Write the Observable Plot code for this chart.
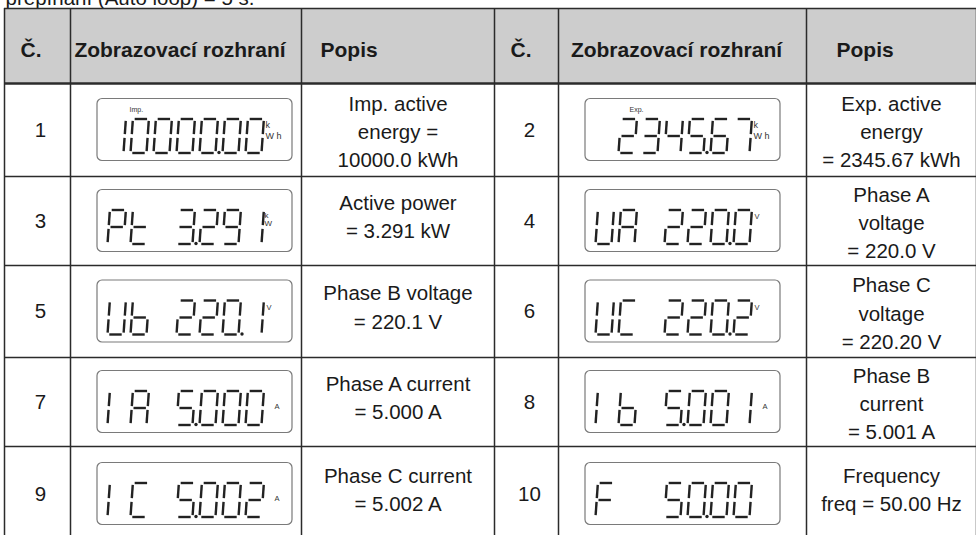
<!DOCTYPE html>
<html>
<head>
<meta charset="utf-8">
<script src="https://cdn.jsdelivr.net/npm/d3@7"></script>
<script src="https://cdn.jsdelivr.net/npm/@observablehq/plot@0.6"></script>
<style>
  html, body { margin: 0; padding: 0; background: #fff; }
</style>
</head>
<body>
<div id="chart"></div>
<script>
// ---------- data ----------
const caption = "přepínání (Auto loop) = 5 s.";
const headerLabels = ["Č.", "Zobrazovací rozhraní", "Popis"];
const itemNumbers = ["1", "2", "3", "4", "5", "6", "7", "8", "9", "10"];
const lcdTexts = ["10000.00", " 2345.67", "Pt 3.291", "UA 220.0", "Ub 220.1",
                  "UC 220.2", "IA 5.000", "Ib 5.001", "IC 5.002", "F  50.00"];
const lcdUnits = ["kWh", "kWh", "kW", "V", "V", "V", "A", "A", "A", ""];
const lcdLabels = ["Imp.", "Exp.", "", "", "", "", "", "", "", ""];
const descriptions = [
  "Imp. active\nenergy =\n10000.0 kWh",
  "Exp. active\nenergy\n= 2345.67 kWh",
  "Active power\n= 3.291 kW",
  "Phase A\nvoltage\n= 220.0 V",
  "Phase B voltage\n= 220.1 V",
  "Phase C\nvoltage\n= 220.20 V",
  "Phase A current\n= 5.000 A",
  "Phase B\ncurrent\n= 5.001 A",
  "Phase C current\n= 5.002 A",
  "Frequency\nfreq = 50.00 Hz"
];
// seven-segment encoding of the LCD glyphs
const glyphSegments = {
  "0": "abcdef", "1": "bc", "2": "abdeg", "3": "abcdg", "4": "bcfg",
  "5": "acdfg", "6": "acdefg", "7": "abc", "8": "abcdefg", "9": "abcdfg",
  "P": "abefg", "t": "defg", "U": "bcdef", "A": "abcefg", "b": "cdefg",
  "C": "adef", "I": "ef", "F": "aefg", " ": ""
};

// ---------- layout ----------
const width = 976, height = 535;
const colEdges = [[4, 70, 301, 494], [494, 558, 806, 976]];
const rowEdges = [8, 83, 176, 265, 357, 446, 541];
const FONT = 20.5;
const ink = "#1a1a1a";

const items = itemNumbers.map((n, i) => {
  const side = i % 2, r = Math.floor(i / 2);
  const c = colEdges[side];
  const y0 = rowEdges[r + 1], y1 = rowEdges[r + 2];
  const cy = (y0 + y1) / 2;
  const nLines = descriptions[i].split("\n").length;
  return {i, n, side, c, y0, y1, cy, nLines,
          desc: descriptions[i], lcd: lcdTexts[i], unit: lcdUnits[i], label: lcdLabels[i],
          bx: c[1] + 27, by: cy - 31};
});

// header cells
const headerCells = colEdges.flatMap((c, side) => [
  {x: c[0] + 16, anchor: "start", text: headerLabels[0]},
  {x: (c[1] + c[2]) / 2 - 6, anchor: "middle", text: headerLabels[1]},
  {x: c[2] + (side ? 30 : 19), anchor: "start", text: headerLabels[2]}
]);

// grid lines
const vLines = [...new Set(colEdges.flat())].map(x => ({x}));
const hLines = rowEdges.map((y, k) => ({y, w: k === 1 ? 2.6 : 1.5}));

// seven segment geometry
const DW = 16, DH = 34, GAP = 1.8, SLANT = 0.07, PITCH = 23;
const SD = {
  a: [[GAP, 0], [DW - GAP, 0]],
  b: [[DW, GAP], [DW, DH / 2 - GAP]],
  c: [[DW, DH / 2 + GAP], [DW, DH - GAP]],
  d: [[GAP, DH], [DW - GAP, DH]],
  e: [[0, DH / 2 + GAP], [0, DH - GAP]],
  f: [[0, GAP], [0, DH / 2 - GAP]],
  g: [[GAP, DH / 2], [DW - GAP, DH / 2]]
};
function parseLcd(s) {
  const cells = [];
  for (const ch of s) {
    if (ch === ".") cells[cells.length - 1].dp = true;
    else cells.push({ch, dp: false});
  }
  return cells;
}
const segments = [], dps = [], unitTexts = [];
items.forEach(it => {
  const dTop = it.cy - 11;
  parseLcd(it.lcd).forEach((cell, k) => {
    const x0 = it.bx + 10 + k * PITCH;
    for (const s of glyphSegments[cell.ch]) {
      const [[u1, v1], [u2, v2]] = SD[s];
      segments.push({
        x1: x0 + u1 + (DH - v1) * SLANT, y1: dTop + v1,
        x2: x0 + u2 + (DH - v2) * SLANT, y2: dTop + v2
      });
    }
    if (cell.dp) dps.push({x: x0 + DW + 3.5, y: dTop + DH - 0.5});
  });
  const ux = it.bx + 168;
  if (it.unit === "kWh") {
    unitTexts.push({x: ux, y: dTop + 9, t: "k", s: 9});
    unitTexts.push({x: ux, y: dTop + 20, t: "W h", s: 9});
  } else if (it.unit === "kW") {
    unitTexts.push({x: ux - 1, y: dTop + 8, t: "k", s: 8});
    unitTexts.push({x: ux - 1, y: dTop + 16, t: "W", s: 8});
  } else if (it.unit === "V") {
    unitTexts.push({x: ux + 1, y: dTop + 9, t: "V", s: 7.5});
  } else if (it.unit === "A") {
    unitTexts.push({x: ux + 9, y: dTop + 18, t: "A", s: 7.5});
  }
  if (it.label) unitTexts.push({x: it.bx + (it.side ? 44 : 32), y: it.by + 13, t: it.label, s: 7});
});

const chart = Plot.plot({
  width, height, margin: 0,
  x: {type: "linear", domain: [0, width], range: [0, width], axis: null},
  y: {type: "linear", domain: [0, height], range: [0, height], axis: null},
  style: {fontFamily: "'Liberation Sans', Arial, sans-serif", background: "white", color: ink},
  marks: [
    // caption line (cut at the top edge, as in the source)
    Plot.text([caption], {x: 5, y: -2, text: d => d, textAnchor: "start", fontSize: FONT, fill: ink}),
    // header background
    Plot.rect([{x1: colEdges[0][0], x2: width, y1: rowEdges[0], y2: rowEdges[1]}],
      {x1: "x1", x2: "x2", y1: "y1", y2: "y2", fill: "#cdcdcd"}),
    // LCD boxes
    Plot.rect(items, {x1: d => d.bx, x2: d => d.bx + 195, y1: d => d.by, y2: d => d.by + 62,
      rx: 5, fill: "white", stroke: "#7a7a7a", strokeWidth: 1.2}),
    // grid
    Plot.ruleX(vLines, {x: "x", y1: rowEdges[0], y2: height + 5, stroke: "#2b2b2b", strokeWidth: 1.5}),
    Plot.ruleY(hLines, {y: "y", x1: colEdges[0][0], x2: width, stroke: "#2b2b2b", strokeWidth: d => d.w}),
    // header texts
    Plot.text(headerCells.filter(d => d.anchor === "start"), {x: "x", y: 49.5, text: "text",
      textAnchor: "start", fontWeight: "bold", fontSize: 21, fill: ink}),
    Plot.text(headerCells.filter(d => d.anchor === "middle"), {x: "x", y: 49.5, text: "text",
      textAnchor: "middle", fontWeight: "bold", fontSize: 21, fill: ink}),
    // row numbers
    Plot.text(items, {x: d => (d.c[0] + d.c[1]) / 2 + 3, y: d => d.cy, text: "n", fontSize: FONT, fill: ink}),
    // descriptions
    Plot.text(items, {x: d => (d.c[2] + d.c[3]) / 2, y: d => d.cy + (d.nLines === 2 ? -6 : 0),
      text: "desc", fontSize: FONT, lineHeight: 1.38, fill: ink}),
    // seven-segment digits
    Plot.link(segments, {x1: "x1", y1: "y1", x2: "x2", y2: "y2", stroke: "#222", strokeWidth: 2.4,
      strokeLinecap: "butt"}),
    Plot.dot(dps, {x: "x", y: "y", r: 1.7, fill: "#222", stroke: null}),
    // unit labels
    Plot.text(unitTexts, {x: "x", y: "y", text: "t", fontSize: d => d.s, textAnchor: "start",
      lineAnchor: "bottom", fill: "#333"})
  ]
});
document.getElementById("chart").append(chart);
</script>
</body>
</html>
